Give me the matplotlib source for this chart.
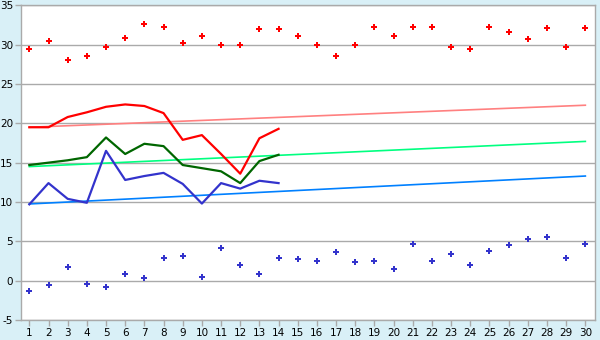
import matplotlib
matplotlib.use('Agg')
import matplotlib.pyplot as plt
import numpy as np

days = list(range(1, 31))

# daily extremes (scatter)
max_pts = [29.4, 30.4, 28.1, 28.6, 29.7, 30.8, 32.6, 32.2, 30.2, 31.1,
           30.0, 29.9, 32.0, 32.0, 31.1, 29.9, 28.6, 30.0, 32.2, 31.1,
           32.2, 32.2, 29.7, 29.4, 32.2, 31.6, 30.7, 32.1, 29.7, 32.1]
min_pts = [-1.3, -0.5, 1.7, -0.4, -0.8, 0.8, 0.3, 2.9, 3.1, 0.5,
           4.2, 2.0, 0.9, 2.9, 2.7, 2.5, 3.7, 2.4, 2.5, 1.5,
           4.7, 2.5, 3.4, 2.0, 3.8, 4.5, 5.3, 5.5, 2.9, 4.6]

# measured lines, days 1-14
line_days = list(range(1, 15))
red_line = [19.5, 19.5, 20.8, 21.4, 22.1, 22.4, 22.2, 21.3, 17.9, 18.5, 16.1, 13.6, 18.1, 19.3]
green_line = [14.7, 15.0, 15.3, 15.7, 18.2, 16.1, 17.4, 17.1, 14.7, 14.3, 13.9, 12.4, 15.2, 16.0]
blue_line = [9.7, 12.4, 10.4, 9.9, 16.5, 12.8, 13.3, 13.7, 12.3, 9.8, 12.4, 11.7, 12.7, 12.4]

# trend lines (start, end)
trend_days = [1, 30]
red_trend = [19.5, 22.3]
green_trend = [14.5, 17.7]
blue_trend = [9.75, 13.3]

fig = plt.figure(figsize=(6, 3.4), dpi=100, facecolor='#D9F0F7')
ax = fig.add_axes([0.0345, 0.0588, 0.9577, 0.9256])
ax.set_facecolor('white')

ax.plot(trend_days, red_trend, color='#FF8080', lw=1.2)
ax.plot(trend_days, green_trend, color='#00FF80', lw=1.2)
ax.plot(trend_days, blue_trend, color='#0080FF', lw=1.2)

ax.plot(line_days, red_line, color='#FF0000', lw=1.6)
ax.plot(line_days, green_line, color='#006600', lw=1.6)
ax.plot(line_days, blue_line, color='#3333CC', lw=1.6)

ax.plot(days, max_pts, ls='none', marker='P', ms=5, color='#FF0000', mew=0)
ax.plot(days, min_pts, ls='none', marker='P', ms=5, color='#3333CC', mew=0)

ax.set_xlim(0.55, 30.52)
ax.set_ylim(-5, 35)
ax.set_xticks(days)
ax.set_yticks(range(-5, 36, 5))
ax.set_yticklabels(['-5'] + [str(v) for v in range(0, 36, 5)])
ax.yaxis.grid(True, color='#AAAAAA', lw=1)
ax.set_axisbelow(True)
for s in ax.spines.values():
    s.set_color('#AAAAAA')
    s.set_linewidth(1)
ax.tick_params(axis='both', colors='#AAAAAA', labelcolor='black', labelsize=7.5,
               length=4, width=1, pad=1.5)

fig.savefig('out.png', dpi=100, facecolor=fig.get_facecolor())
